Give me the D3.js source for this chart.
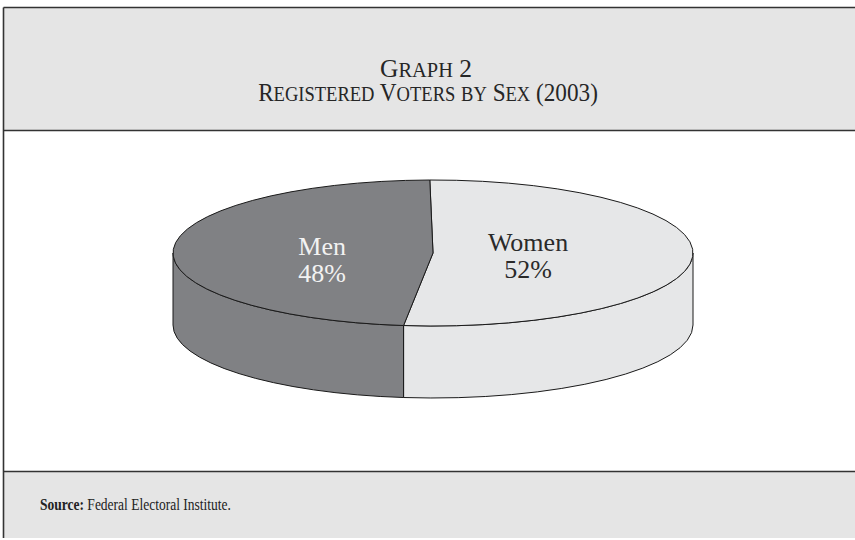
<!DOCTYPE html>
<html>
<head>
<meta charset="utf-8">
<script src="https://cdn.jsdelivr.net/npm/d3@7"></script>
<style>
  html, body { margin: 0; padding: 0; background: #ffffff; }
  svg { display: block; }
</style>
</head>
<body>
<svg id="chart" width="855" height="540"></svg>
<script>
// ---- data ----
const categories = ["Women", "Men"];
const values = [52, 48];
const labels = ["52%", "48%"];
const titleLines = ["Graph 2", "Registered Voters by Sex (2003)"];
const sourceBold = "Source:";
const sourceText = " Federal Electoral Institute.";

// ---- layout ----
const W = 855, H = 540;
const svg = d3.select("#chart");
const frameX = 3.5, frameTop = 7.5, titleBottom = 130.5, sourceTop = 471.5, frameBottom = 538;
const boxFill = "#e5e5e5", lineColor = "#333333";
const serif = "'Liberation Serif', 'DejaVu Serif', serif";

svg.append("rect").attr("x", frameX).attr("y", frameTop).attr("width", W).attr("height", titleBottom - frameTop)
  .attr("fill", boxFill);
svg.append("rect").attr("x", frameX).attr("y", sourceTop).attr("width", W).attr("height", frameBottom - sourceTop)
  .attr("fill", boxFill);
const lines = [
  [frameX, frameTop, W + 5, frameTop],
  [frameX, frameTop, frameX, frameBottom],
  [frameX, titleBottom, W + 5, titleBottom],
  [frameX, sourceTop, W + 5, sourceTop]
];
svg.selectAll("line.frame").data(lines).enter().append("line")
  .attr("class", "frame")
  .attr("x1", d => d[0]).attr("y1", d => d[1]).attr("x2", d => d[2]).attr("y2", d => d[3])
  .attr("stroke", lineColor).attr("stroke-width", 1.6);

// fit a text group horizontally to a target width by scaling x
function fitX(textSel, x, y, target, anchor) {
  const w = textSel.node().getComputedTextLength();
  const s = target / w;
  textSel.attr("x", 0).attr("y", 0).attr("text-anchor", anchor)
    .attr("transform", `translate(${x},${y}) scale(${s},1)`);
}

// title with manual small caps
const titleWidths = [92, 340];
const titleX = [426, 428];
const titleY = [77, 101];
const capSize = 25, smallSize = 20;
function runs(str) {
  const out = [];
  for (const ch of str) {
    const small = ch !== ch.toUpperCase();
    const last = out[out.length - 1];
    if (last && last.small === small) last.t += ch.toUpperCase();
    else out.push({ small, t: ch.toUpperCase() });
  }
  return out;
}
titleLines.forEach((line, i) => {
  const t = svg.append("text")
    .style("font-family", serif)
    .attr("fill", "#262626");
  t.selectAll("tspan").data(runs(line)).enter().append("tspan")
    .style("font-size", d => (d.small ? smallSize : capSize) + "px")
    .text(d => d.t);
  fitX(t, titleX[i], titleY[i], titleWidths[i], "middle");
});

// source
const src = svg.append("text")
  .style("font-family", serif)
  .style("font-size", "17px").attr("fill", "#222");
src.append("tspan").style("font-weight", "bold").text(sourceBold);
src.append("tspan").text(sourceText);
fitX(src, 40, 510, 191, "start");

// ---- 3D pie ----
const cx = 433, cy = 253, rx = 260, ry = 73, depth = 72;
const colors = d3.scaleOrdinal().domain(categories).range(["#e6e7e8", "#808184"]);
const textColors = d3.scaleOrdinal().domain(categories).range(["#2a2a2a", "#f2f2f2"]);

const off = 0.7 * Math.PI / 180;
const pie = d3.pie().sort(null).value(d => d.v)
  .startAngle(-off).endAngle(2 * Math.PI - off);
const arcs = pie(categories.map((c, i) => ({ c, v: values[i], l: labels[i] })));

const px = a => cx + rx * Math.sin(a);
const py = (a, dy = 0) => cy - ry * Math.cos(a) + dy;

function topPath(a0, a1) {
  const large = (a1 - a0) > Math.PI ? 1 : 0;
  return `M${cx},${cy}L${px(a0)},${py(a0)}A${rx},${ry} 0 ${large} 1 ${px(a1)},${py(a1)}Z`;
}
function sidePath(a0, a1) {
  const b0 = Math.max(a0, Math.PI / 2), b1 = Math.min(a1, 3 * Math.PI / 2);
  if (b1 <= b0) return null;
  return `M${px(b0)},${py(b0)}A${rx},${ry} 0 0 1 ${px(b1)},${py(b1)}` +
         `L${px(b1)},${py(b1, depth)}A${rx},${ry} 0 0 0 ${px(b0)},${py(b0, depth)}Z`;
}

const g = svg.append("g");
g.selectAll("path.side").data(arcs.filter(d => sidePath(d.startAngle, d.endAngle))).enter()
  .append("path").attr("class", "side")
  .attr("d", d => sidePath(d.startAngle, d.endAngle))
  .attr("fill", d => colors(d.data.c))
  .attr("stroke", "#1a1a1a").attr("stroke-width", 1).attr("stroke-linejoin", "round");
g.selectAll("path.top").data(arcs).enter()
  .append("path").attr("class", "top")
  .attr("d", d => topPath(d.startAngle, d.endAngle))
  .attr("fill", d => colors(d.data.c))
  .attr("stroke", "#1a1a1a").attr("stroke-width", 1).attr("stroke-linejoin", "round");

// labels
const labelK = { Women: 0.366, Men: 0.427 };
const labelDy = { Women: -2, Men: 2 };
const lab = g.selectAll("text.lab").data(arcs).enter().append("text")
  .attr("class", "lab")
  .attr("text-anchor", "middle")
  .style("font-family", serif)
  .style("font-size", "26px")
  .attr("fill", d => textColors(d.data.c));
lab.each(function (d) {
  const mid = (d.startAngle + d.endAngle) / 2;
  const k = labelK[d.data.c];
  const x = cx + k * rx * Math.sin(mid);
  const y = cy + labelDy[d.data.c];
  const t = d3.select(this);
  t.append("tspan").attr("x", x).attr("y", y).text(d.data.c);
  t.append("tspan").attr("x", x).attr("y", y + 27).text(d.data.l);
});
</script>
</body>
</html>
